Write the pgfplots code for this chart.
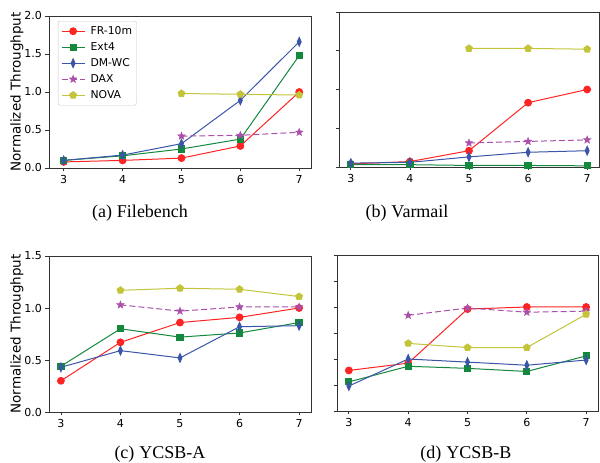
\documentclass[border=0pt]{standalone}
\usepackage{pgfplots}
\pgfplotsset{compat=1.18}
\usepackage{fontspec}
\setmainfont{DejaVu Sans}
\newfontfamily\capfont{Liberation Serif}
\definecolor{cFR}{HTML}{FF2424}
\definecolor{cExt}{HTML}{14883C}
\definecolor{cDM}{HTML}{3B55A8}
\definecolor{cDAX}{HTML}{AA4FAA}
\definecolor{cNOVA}{HTML}{C4C43A}
\pgfdeclareplotmark{fstar}{%
  \pgfpathmoveto{\pgfpointpolar{90}{\pgfplotmarksize}}%
  \pgfpathlineto{\pgfpointpolar{126}{0.42\pgfplotmarksize}}%
  \pgfpathlineto{\pgfpointpolar{162}{\pgfplotmarksize}}%
  \pgfpathlineto{\pgfpointpolar{198}{0.42\pgfplotmarksize}}%
  \pgfpathlineto{\pgfpointpolar{234}{\pgfplotmarksize}}%
  \pgfpathlineto{\pgfpointpolar{270}{0.42\pgfplotmarksize}}%
  \pgfpathlineto{\pgfpointpolar{306}{\pgfplotmarksize}}%
  \pgfpathlineto{\pgfpointpolar{342}{0.42\pgfplotmarksize}}%
  \pgfpathlineto{\pgfpointpolar{18}{\pgfplotmarksize}}%
  \pgfpathlineto{\pgfpointpolar{54}{0.42\pgfplotmarksize}}%
  \pgfpathclose\pgfusepathqfillstroke}
\pgfplotsset{
  mystyle/.style={
    scale only axis,
    axis line style={black!80, line width=0.8pt},
    tick style={black!80, line width=0.8pt},
    tick align=outside,
    major tick length=3.5pt,
    tick pos=left,
    xtick={3,4,5,6,7},
    ticklabel style={font=\fontsize{11}{13}\selectfont},
    /pgf/number format/assume math mode=true,
    yticklabel style={/pgf/number format/fixed, /pgf/number format/fixed zerofill, /pgf/number format/precision=1},
    every axis plot/.append style={line width=1pt},
    every axis plot post/.append style={
      legend image code/.code={\draw[mark repeat=2,mark phase=2,##1] plot coordinates {(0pt,0pt) (11.5pt,0pt) (23pt,0pt)};}},
    ymin=0,
    every axis y label/.style={at={(rel axis cs:0,0.5)}, xshift=-32pt, rotate=90, anchor=center, font=\fontsize{13.5}{15}\selectfont},
  },
  fr/.style={color=cFR, mark=*, mark size=3.4pt, mark options={solid}},
  ext/.style={color=cExt, mark=square*, mark size=3.1pt, mark options={solid}},
  dm/.style={color=cDM, mark=diamond*, mark size=4.3pt, mark options={solid, xscale=0.6}},
  dax/.style={color=cDAX, dash pattern=on 6pt off 3pt, mark=fstar, mark size=3.9pt, mark options={solid, line width=0.5pt}},
  nova/.style={color=cNOVA, mark=pentagon*, mark size=3.5pt, mark options={solid}},
}
\begin{document}
\begin{tikzpicture}
\useasboundingbox (0pt,0pt) rectangle (600pt,463pt);
% (a) Filebench
\begin{axis}[mystyle, at={(49pt,295pt)}, anchor=south west, width=262pt, height=152pt,
  xmin=2.75, xmax=7.2, ymax=2.0, ytick={0,0.5,1,1.5,2},
  ylabel={Normalized Throughput},
  legend style={at={(0.034,0.967)}, anchor=north west, draw=black!22, rounded corners=2pt,
    font=\fontsize{10.8}{13}\selectfont, row sep=3pt, column sep=4pt, inner xsep=3pt, inner ysep=3.5pt,
    nodes={inner sep=1.5pt, text height=8pt, text depth=2pt}},
  legend cell align=left]
\addplot[fr] coordinates {(3,0.08)(4,0.10)(5,0.13)(6,0.29)(7,1.00)};
\addplot[ext] coordinates {(3,0.10)(4,0.16)(5,0.25)(6,0.38)(7,1.48)};
\addplot[dm] coordinates {(3,0.10)(4,0.17)(5,0.32)(6,0.89)(7,1.66)};
\addplot[dax] coordinates {(5,0.42)(6,0.43)(7,0.47)};
\addplot[nova] coordinates {(5,0.98)(6,0.97)(7,0.96)};
\legend{FR-10m, Ext4, DM-WC, DAX, NOVA}
\end{axis}
% (b) Varmail
\begin{axis}[mystyle, at={(339pt,296pt)}, anchor=south west, width=260pt, height=155pt,
  xmin=2.8, xmax=7.2, ymax=2.0, ytick={0,0.5,1,1.5,2}, yticklabels={}]
\addplot[fr] coordinates {(3,0.04)(4,0.07)(5,0.21)(6,0.83)(7,1.00)};
\addplot[ext] coordinates {(3,0.03)(4,0.03)(5,0.02)(6,0.02)(7,0.015)};
\addplot[dm] coordinates {(3,0.05)(4,0.06)(5,0.13)(6,0.19)(7,0.21)};
\addplot[dax] coordinates {(5,0.31)(6,0.33)(7,0.35)};
\addplot[nova] coordinates {(5,1.53)(6,1.53)(7,1.52)};
\end{axis}
% (c) YCSB-A
\begin{axis}[mystyle, at={(49pt,51pt)}, anchor=south west, width=262pt, height=156pt,
  xmin=2.8, xmax=7.2, ymax=1.5, ytick={0,0.5,1,1.5},
  ylabel={Normalized Throughput}]
\addplot[fr] coordinates {(3,0.30)(4,0.67)(5,0.86)(6,0.91)(7,1.00)};
\addplot[ext] coordinates {(3,0.44)(4,0.80)(5,0.72)(6,0.76)(7,0.86)};
\addplot[dm] coordinates {(3,0.43)(4,0.59)(5,0.52)(6,0.82)(7,0.83)};
\addplot[dax] coordinates {(4,1.03)(5,0.97)(6,1.01)(7,1.01)};
\addplot[nova] coordinates {(4,1.17)(5,1.19)(6,1.18)(7,1.11)};
\end{axis}
% (d) YCSB-B
\begin{axis}[mystyle, at={(337pt,52pt)}, anchor=south west, width=261pt, height=156pt,
  xmin=2.8, xmax=7.2, ymax=1.5, ytick={0,0.25,0.5,0.75,1,1.25,1.5}, yticklabels={}]
\addplot[fr] coordinates {(3,0.39)(4,0.46)(5,0.98)(6,1.00)(7,1.00)};
\addplot[ext] coordinates {(3,0.28)(4,0.43)(5,0.41)(6,0.38)(7,0.53)};
\addplot[dm] coordinates {(3,0.24)(4,0.50)(5,0.47)(6,0.44)(7,0.49)};
\addplot[dax] coordinates {(4,0.92)(5,0.99)(6,0.95)(7,0.96)};
\addplot[nova] coordinates {(4,0.65)(5,0.61)(6,0.61)(7,0.93)};
\end{axis}
\node[font=\capfont\fontsize{18}{20}\selectfont, anchor=base] at (140pt,245pt) {(a)\hspace{5pt}Filebench};
\node[font=\capfont\fontsize{18}{20}\selectfont, anchor=base] at (407pt,245pt) {(b)\hspace{5pt}Varmail};
\node[font=\capfont\fontsize{18}{20}\selectfont, anchor=base] at (160pt,4pt) {(c)\hspace{5pt}YCSB-A};
\node[font=\capfont\fontsize{18}{20}\selectfont, anchor=base] at (466pt,4pt) {(d)\hspace{5pt}YCSB-B};
\end{tikzpicture}
\end{document}
